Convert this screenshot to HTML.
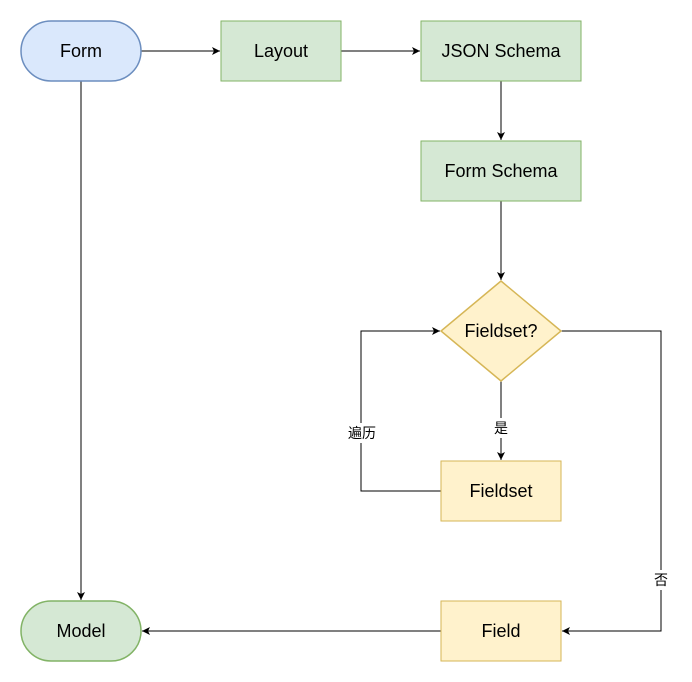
<!DOCTYPE html>
<html><head><meta charset="utf-8"><style>
html,body{margin:0;padding:0;background:#fff;}
svg{display:block;}
text{font-family:"Liberation Sans","Noto Sans CJK SC",sans-serif;}
</style></head><body>
<svg width="692" height="682" viewBox="0 0 692 682" xmlns="http://www.w3.org/2000/svg">
<defs>
<marker id="a" markerWidth="10" markerHeight="10" refX="9" refY="5" orient="auto" markerUnits="userSpaceOnUse">
<path d="M1,1 L9,5 L1,9 L3,5 Z" fill="#000"/>
</marker>
</defs>
<g stroke="#000" stroke-width="1" fill="none">
<line x1="141" y1="51" x2="220" y2="51" marker-end="url(#a)"/>
<line x1="341" y1="51" x2="420" y2="51" marker-end="url(#a)"/>
<line x1="501" y1="81" x2="501" y2="140" marker-end="url(#a)"/>
<line x1="501" y1="201" x2="501" y2="280" marker-end="url(#a)"/>
<line x1="501" y1="381" x2="501" y2="460" marker-end="url(#a)"/>
<polyline points="441,491 361,491 361,331 440,331" marker-end="url(#a)"/>
<polyline points="561,331 661,331 661,631 562,631" marker-end="url(#a)"/>
<line x1="441" y1="631" x2="142" y2="631" marker-end="url(#a)"/>
<line x1="81" y1="81" x2="81" y2="600" marker-end="url(#a)"/>
</g>
<rect x="21" y="21" width="120" height="60" rx="30" fill="#dae8fc" stroke="#6c8ebf" stroke-width="1.5"/>
<rect x="221" y="21" width="120" height="60" fill="#d5e8d4" stroke="#82b366"/>
<rect x="421" y="21" width="160" height="60" fill="#d5e8d4" stroke="#82b366"/>
<rect x="421" y="141" width="160" height="60" fill="#d5e8d4" stroke="#82b366"/>
<polygon points="501,281 561,331 501,381 441,331" fill="#fff2cc" stroke="#d6b656" stroke-width="1.5"/>
<rect x="441" y="461" width="120" height="60" fill="#fff2cc" stroke="#d6b656"/>
<rect x="441" y="601" width="120" height="60" fill="#fff2cc" stroke="#d6b656"/>
<rect x="21" y="601" width="120" height="60" rx="30" fill="#d5e8d4" stroke="#82b366" stroke-width="1.5"/>
<g font-size="18" text-anchor="middle" fill="#000">
<text x="81" y="57">Form</text>
<text x="281" y="57">Layout</text>
<text x="501" y="57">JSON Schema</text>
<text x="501" y="177">Form Schema</text>
<text x="501" y="337">Fieldset?</text>
<text x="501" y="497">Fieldset</text>
<text x="501" y="637">Field</text>
<text x="81" y="637">Model</text>
</g>
<g font-size="14" text-anchor="middle" fill="#000">
<rect x="493" y="418" width="16" height="20" fill="#fff"/>
<text x="501" y="433">是</text>
<rect x="345" y="423" width="33" height="20" fill="#fff"/>
<text x="362" y="438">遍历</text>
<rect x="652" y="570" width="18" height="20" fill="#fff"/>
<text x="661" y="585">否</text>
</g>
</svg>
</body></html>
